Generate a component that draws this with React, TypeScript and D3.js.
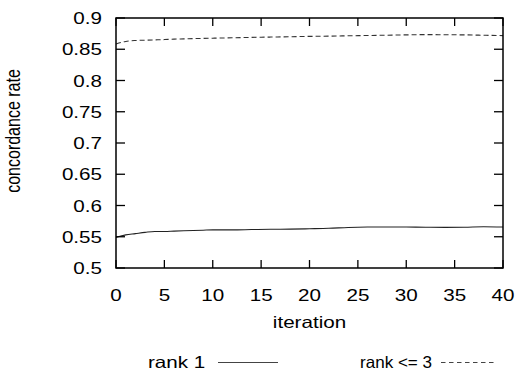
import React from 'react';
import * as d3 from 'd3';

// iterations
const iterations = [0, 1, 2, 3, 4, 5, 6, 7, 8, 9, 10, 12, 14, 16, 18, 20, 22, 24, 26, 28, 30, 32, 34, 36, 38, 40];
const rank1 = [0.549, 0.553, 0.555, 0.557, 0.5585, 0.5585, 0.559, 0.5595, 0.56, 0.5605, 0.561, 0.561, 0.5615, 0.562, 0.5622, 0.5628, 0.5635, 0.5648, 0.5655, 0.5657, 0.5655, 0.5652, 0.565, 0.5652, 0.566, 0.5655];
const rank3 = [0.8585, 0.8625, 0.864, 0.8645, 0.865, 0.8655, 0.8662, 0.8666, 0.867, 0.8674, 0.8677, 0.8683, 0.869, 0.8695, 0.87, 0.8706, 0.871, 0.8715, 0.872, 0.8725, 0.873, 0.8734, 0.8732, 0.873, 0.8724, 0.8718];
const xTicks = [0, 5, 10, 15, 20, 25, 30, 35, 40];
const yTicks = [0.5, 0.55, 0.6, 0.65, 0.7, 0.75, 0.8, 0.85, 0.9];
const seriesNames = ['rank 1', 'rank <= 3'];

const W = 524;
const H = 371;
const margin = { top: 18, right: 21, bottom: 103, left: 116 };
const FONT = '"Liberation Sans", Arial, Helvetica, sans-serif';
const FS = 16.5;
const SX = 1.25; // glyphs in the picture are stretched sideways

const App = () => {
  const x = d3.scaleLinear().domain([0, 40]).range([margin.left, W - margin.right]);
  const y = d3.scaleLinear().domain([0.5, 0.9]).range([H - margin.bottom, margin.top]);

  const line = d3.line<number>()
    .x((_, i) => x(iterations[i]))
    .y(d => y(d))
    .curve(d3.curveMonotoneX);

  const x0 = x.range()[0], x1 = x.range()[1];
  const y0 = y.range()[0], y1 = y.range()[1];

  const label = (tx: number, ty: number, text: string, anchor: string, extra: any = {}) => (
    <text transform={`translate(${tx},${ty}) scale(${SX},1)`} textAnchor={anchor} {...extra}>{text}</text>
  );

  return (
    <svg width={W} height={H} style={{ position: 'absolute', left: 0, top: 0 }}
      fontFamily={FONT} fontSize={FS} fill="#000">
      {/* data */}
      <path d={line(rank1) || ''} fill="none" stroke="#222" strokeWidth={1.1} />
      <path d={line(rank3) || ''} fill="none" stroke="#333" strokeWidth={1.1} strokeDasharray="5,3" />

      {/* ticks, inward on all sides */}
      {xTicks.map(t => (
        <g key={'xt' + t}>
          <line x1={x(t)} x2={x(t)} y1={y0} y2={y0 - 8} stroke="#000" strokeWidth={1.3} />
          <line x1={x(t)} x2={x(t)} y1={y1} y2={y1 + 8} stroke="#000" strokeWidth={1.3} />
          {label(x(t), 301, String(t), 'middle')}
        </g>
      ))}
      {yTicks.map(t => (
        <g key={'yt' + t}>
          <line x1={x0} x2={x0 + 9} y1={y(t)} y2={y(t)} stroke="#000" strokeWidth={1.3} />
          <line x1={x1} x2={x1 - 9} y1={y(t)} y2={y(t)} stroke="#000" strokeWidth={1.3} />
          {label(102, y(t) + 6, String(t), 'end')}
        </g>
      ))}

      {/* frame */}
      <rect x={x0} y={y1} width={x1 - x0} height={y0 - y1} fill="none" stroke="#000" strokeWidth={1.5} />

      {/* axis titles */}
      {label((x0 + x1) / 2, 328, 'iteration', 'middle')}
      <text transform={`translate(19.5,131) scale(${SX},1) rotate(-90)`} textAnchor="middle" fontSize={16}>
        concordance rate
      </text>

      {/* legend */}
      {label(148, 368, seriesNames[0], 'start')}
      <line x1={218} x2={278} y1={362.5} y2={362.5} stroke="#444" strokeWidth={1.1} />
      {label(360, 368, seriesNames[1], 'start', { textLength: 72 / SX, lengthAdjust: 'spacingAndGlyphs' })}
      <line x1={441} x2={497} y1={362.5} y2={362.5} stroke="#444" strokeWidth={1.1} strokeDasharray="4.5,3.5" />
    </svg>
  );
};

export default App;
